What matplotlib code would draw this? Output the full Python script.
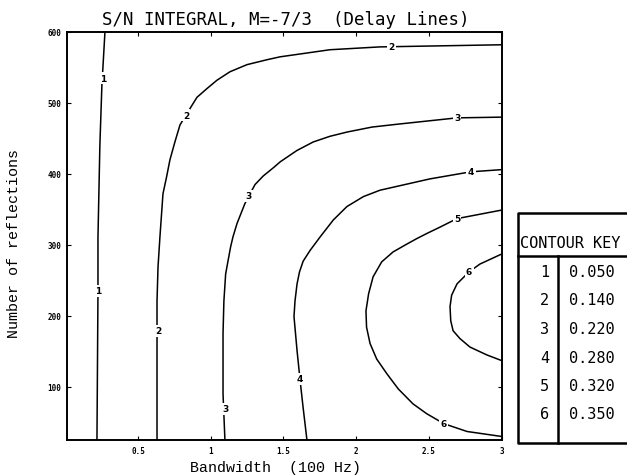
import matplotlib
matplotlib.use("Agg")
import matplotlib.pyplot as plt

W, H = 627, 477

# contour lines (bandwidth in 100 Hz, number of reflections)
c1_x = [0.273, 0.252, 0.238, 0.225, 0.225, 0.218]
c1_y = [600, 525, 440, 311, 235, 25]
c2_x = [3.0, 2.164, 1.820, 1.477, 1.389, 1.250, 1.133, 1.043, 0.973, 0.906, 0.830, 0.789, 0.754,
        0.720, 0.697, 0.672, 0.651, 0.638, 0.631, 0.631, 0.631]
c2_y = [582, 579, 575, 565, 561, 554, 544, 532, 520, 508, 483, 469, 445,
        420, 396, 372, 311, 269, 221, 179, 25]
c3_x = [3.0, 2.694, 2.282, 2.109, 1.938, 1.820, 1.705, 1.593, 1.478, 1.433, 1.361, 1.305, 1.263,
        1.235, 1.181, 1.153, 1.137, 1.119, 1.103, 1.091, 1.085, 1.085, 1.098]
c3_y = [480, 479, 470, 466, 459, 453, 445, 433, 417, 409, 397, 385, 369,
        358, 330, 311, 297, 277, 259, 221, 175, 90, 25]
c4_x = [3.0, 2.79, 2.508, 2.164, 2.05, 1.937, 1.843, 1.752, 1.683, 1.636, 1.611, 1.594, 1.580,
        1.573, 1.594, 1.614, 1.635, 1.662]
c4_y = [406, 403, 393, 377, 368, 354, 335, 311, 292, 277, 262, 245, 221,
        199, 151, 111, 72, 25]
c5_x = [3.0, 2.694, 2.577, 2.486, 2.419, 2.348, 2.254, 2.176, 2.117, 2.086, 2.068, 2.072, 2.096,
        2.142, 2.213, 2.29, 2.391, 2.486, 2.604, 2.763, 3.0]
c5_y = [349, 337, 325, 316, 309, 301, 290, 276, 255, 231, 207, 184, 161,
        139, 118, 97, 76, 62, 48, 37, 30]
c6_x = [3.0, 2.852, 2.777, 2.694, 2.657, 2.646, 2.651, 2.667, 2.714, 2.783, 2.898, 3.0]
c6_y = [287, 273, 262, 245, 229, 213, 193, 179, 168, 156, 145, 137]

contours = [(c1_x, c1_y), (c2_x, c2_y), (c3_x, c3_y), (c4_x, c4_y), (c5_x, c5_y), (c6_x, c6_y)]

# inline labels (text, x, y)
labels = [("1", 0.259, 535), ("1", 0.225, 235),
          ("2", 2.246, 580), ("2", 0.830, 483), ("2", 0.638, 179),
          ("3", 2.694, 479), ("3", 1.263, 369), ("3", 1.105, 69),
          ("4", 2.79, 403), ("4", 1.614, 111),
          ("5", 2.694, 337), ("6", 2.604, 48),
          ("6", 2.777, 262)]

x_ticks = [0.5, 1, 1.5, 2, 2.5, 3]
x_ticklabels = ["0.5", "1", "1.5", "2", "2.5", "3"]
y_ticks = [100, 200, 300, 400, 500, 600]

key_ids = ["1", "2", "3", "4", "5", "6"]
key_vals = ["0.050", "0.140", "0.220", "0.280", "0.320", "0.350"]

fig = plt.figure(figsize=(W / 100, H / 100), dpi=100)
ax = fig.add_axes([67 / W, 1 - 441 / H, (501.5 - 67) / W, (441 - 33) / H])

for xs, ys in contours:
    ax.plot(xs, ys, color="black", lw=1.1, solid_capstyle="butt", solid_joinstyle="round")

for t, lx, ly in labels:
    ax.text(lx, ly, t, ha="center", va="center", fontsize=6.5, fontweight="bold",
            bbox=dict(facecolor="white", edgecolor="none", pad=1.0))

ax.set_xlim(0.012, 3)
ax.set_ylim(25, 600)
ax.set_xticks(x_ticks)
ax.set_xticklabels(x_ticklabels)
ax.set_yticks(y_ticks)
ax.tick_params(direction="in", length=3, width=0.8, top=True, right=True, pad=4)
for lab in ax.get_xticklabels() + ax.get_yticklabels():
    lab.set_fontfamily("DejaVu Sans Mono")
    lab.set_fontweight("bold")
    lab.set_fontsize(5.5)
for s in ax.spines.values():
    s.set_linewidth(1.4)

fig.text(286 / W, 1 - 20 / H, "S/N INTEGRAL, M=-7/3  (Delay Lines)", ha="center", va="center",
         fontsize=12.5, family="DejaVu Sans Mono")
fig.text(275 / W, 1 - 468 / H, "Bandwidth  (100 Hz)", ha="center", va="center",
         fontsize=10.8, family="Liberation Mono")
fig.text(14 / W, 1 - 243 / H, "Number of reflections", ha="center", va="center", rotation=90,
         fontsize=10.8, family="Liberation Mono")

# contour key box (pixel coordinates, runs off the right edge)
kax = fig.add_axes([0, 0, 1, 1], facecolor="none")
kax.set_xlim(0, W)
kax.set_ylim(H, 0)
kax.axis("off")
klw = 1.8
kax.plot([660, 518, 518, 660], [214, 214, 444, 444], color="black", lw=klw)
kax.plot([518, 660], [257, 257], color="black", lw=klw)
kax.plot([558, 558], [257, 444], color="black", lw=klw)
kax.text(520, 244, "CONTOUR KEY", ha="left", va="center", fontsize=11, family="DejaVu Sans Mono")
row_y = [273, 301, 330, 359, 387, 415]
for i in range(len(key_ids)):
    kax.text(549, row_y[i], key_ids[i], ha="right", va="center", fontsize=11, family="DejaVu Sans Mono")
    kax.text(569, row_y[i], key_vals[i], ha="left", va="center", fontsize=11, family="DejaVu Sans Mono")

fig.savefig("out.png", dpi=100)
